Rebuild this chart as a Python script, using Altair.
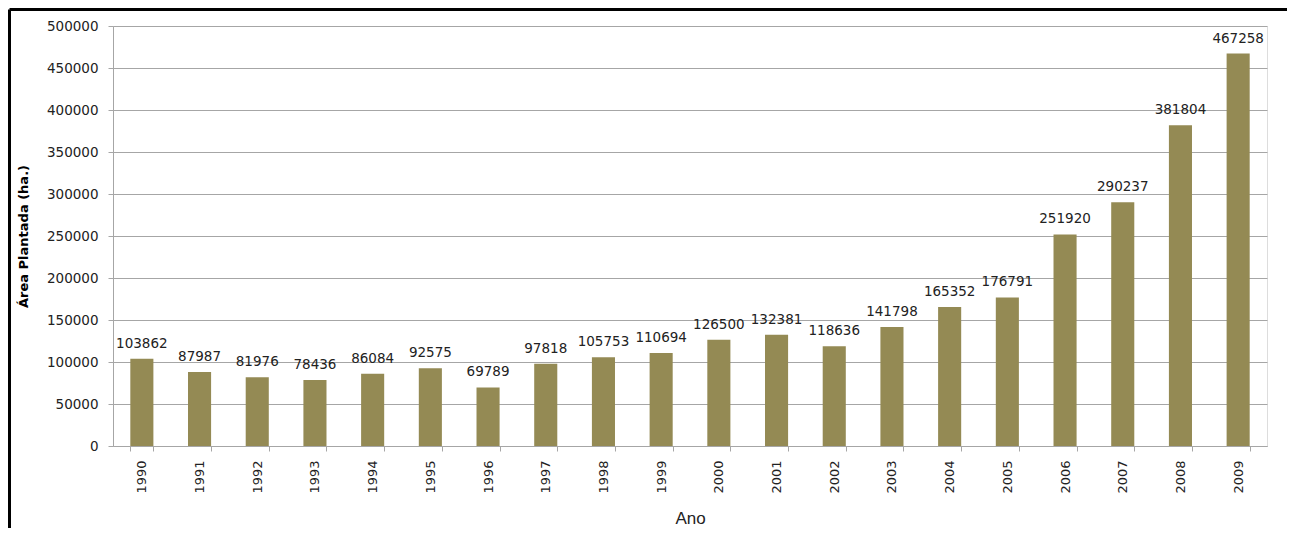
import altair as alt
import pandas as pd

anos = [str(y) for y in range(1990, 2010)]
area = [103862, 87987, 81976, 78436, 86084, 92575, 69789, 97818, 105753, 110694,
        126500, 132381, 118636, 141798, 165352, 176791, 251920, 290237, 381804, 467258]

df = pd.DataFrame({"Ano": anos, "Area": area})

W, H = 1154, 420
PAD_L, PAD_T, PAD_R, PAD_B = 105, 18, 20, 82
FONT = "DejaVu Sans"
TXT = "#222222"
GRID = "#A6A6A6"

x = alt.X("Ano:O", sort=anos,
          scale=alt.Scale(paddingInner=0.6, paddingOuter=0.3),
          axis=alt.Axis(title="Ano", labelAngle=-90, labelFont=FONT, labelFontSize=13,
                        labelColor=TXT, labelPadding=9, tickBand="extent", tickSize=5,
                        tickColor=GRID, domainColor=GRID, titleFont="Liberation Sans",
                        titleFontSize=17, titleFontWeight="normal", titleColor=TXT,
                        titlePadding=17, grid=False))
y = alt.Y("Area:Q",
          scale=alt.Scale(domain=[0, 500000], nice=False),
          axis=alt.Axis(title="Área Plantada (ha.)", values=list(range(0, 500001, 50000)),
                        format="d", labelFont=FONT, labelFontSize=13.5, labelColor=TXT,
                        labelPadding=10, tickSize=5, tickColor=GRID, domainColor=GRID,
                        gridColor=GRID, gridWidth=1, titleFont=FONT, titleFontSize=13,
                        titleFontWeight="bold", titleColor="#000000", titlePadding=16))

bars = alt.Chart(df).mark_bar(color="#948A54").encode(x=x, y=y)
labels = alt.Chart(df).mark_text(font=FONT, fontSize=13.5, color=TXT, baseline="alphabetic",
                                 dy=-11).encode(x=x, y=y, text=alt.Text("Area:Q", format="d"))

one = pd.DataFrame({"f": [0]})
top_line = alt.Chart(one).mark_rule(color="#000000", strokeWidth=3).encode(
    x=alt.value(-PAD_L + 1.5), x2=alt.value(W + PAD_R), y=alt.value(-PAD_T + 1.5))
left_line = alt.Chart(one).mark_rule(color="#000000", strokeWidth=3).encode(
    x=alt.value(-PAD_L + 1.5), y=alt.value(-PAD_T + 1.5), y2=alt.value(H + PAD_B))

chart = alt.layer(bars, labels, top_line, left_line).properties(
    width=W, height=H,
    autosize=alt.AutoSizeParams(type="none"),
    padding={"left": PAD_L, "top": PAD_T, "right": PAD_R, "bottom": PAD_B},
).configure_view(stroke=None).configure(background="white")

chart.save("out.html", embed_options={"renderer": "svg", "actions": False})
